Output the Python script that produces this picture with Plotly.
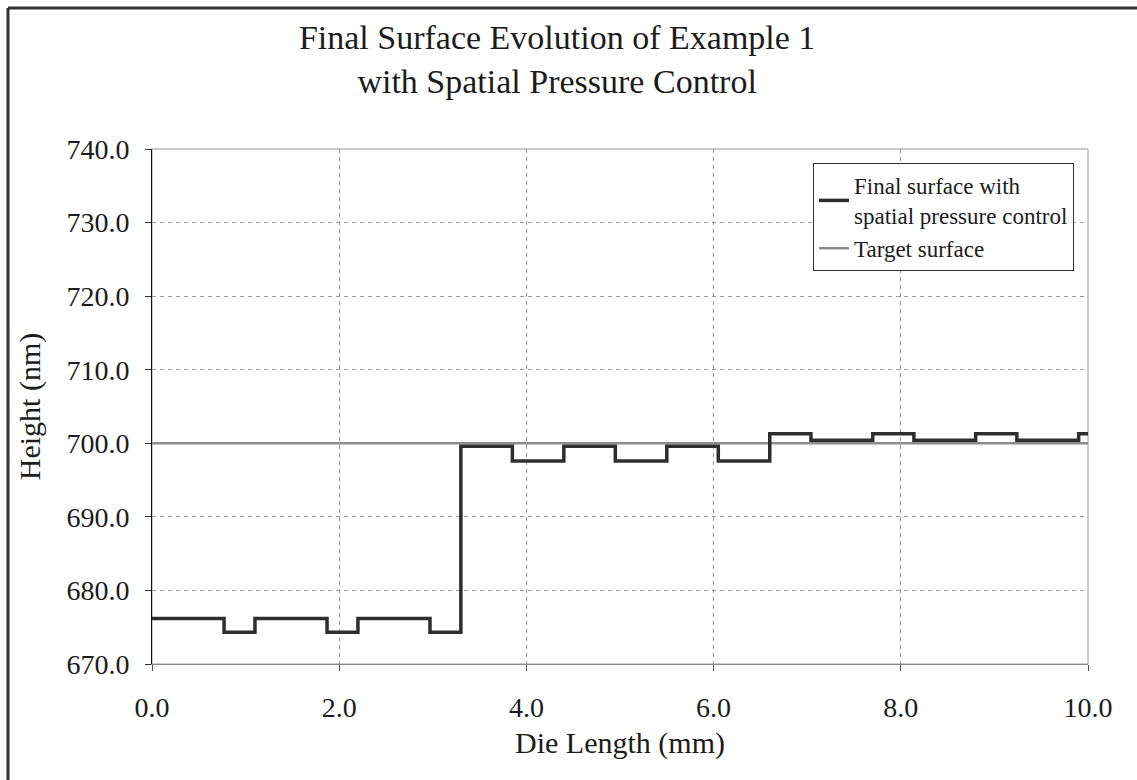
import plotly.graph_objects as go

# Die position breakpoints (mm) and surface heights (nm) of the final profile
die_length_mm = [0.0, 0.77, 1.1, 1.87, 2.2, 2.97, 3.3, 3.85, 4.4, 4.95, 5.5, 6.05,
                 6.6, 7.04, 7.7, 8.14, 8.8, 9.24, 9.9, 10.0]
final_height_nm = [676.2, 674.3, 676.2, 674.3, 676.2, 674.3, 699.6, 697.6, 699.6, 697.6,
                   699.6, 697.6, 701.3, 700.4, 701.3, 700.4, 701.3, 700.4, 701.3, 701.3]

# Flat target surface
target_x = [0.0, 10.0]
target_height_nm = [700.0, 700.0]

x_ticks = [0, 2, 4, 6, 8, 10]
y_ticks = [670, 680, 690, 700, 710, 720, 730, 740]

FONT = "Liberation Serif, Times New Roman, serif"
INK = "#1c1c1c"

fig = go.Figure()
fig.add_trace(go.Scatter(
    x=target_x, y=target_height_nm, mode="lines",
    name="Target surface",
    line=dict(color="#8c8c8c", width=2.5),
))
fig.add_trace(go.Scatter(
    x=die_length_mm, y=final_height_nm, mode="lines", line_shape="hv",
    name="Final surface with<br>spatial pressure control",
    line=dict(color="#2e2e2e", width=3.5),
))

W, H = 1137, 780
L, R, T, B = 152, 49, 149, 116
pw, ph = W - L - R, H - T - B


def px_to_paper(px, py):
    return (px - L) / pw, (H - B - py) / ph


fx, fy = px_to_paper(8, 8)

fig.update_layout(
    width=W, height=H,
    margin=dict(l=L, r=R, t=T, b=B),
    paper_bgcolor="white", plot_bgcolor="white",
    font=dict(family=FONT, color=INK, size=28),
    title=dict(
        text="Final Surface Evolution of Example 1<br>with Spatial Pressure Control",
        x=0.49, xref="container", xanchor="center",
        y=0.937, yref="container", yanchor="top",
        font=dict(size=34, family=FONT, color=INK),
    ),
    showlegend=True,
    legend=dict(
        x=(813 - L) / pw, y=(H - B - 163) / ph, xanchor="left", yanchor="top",
        traceorder="reversed",
        bgcolor="white", bordercolor="#333333", borderwidth=1,
        font=dict(size=23, family=FONT, color=INK),
        itemwidth=30, tracegroupgap=0,
    ),
    xaxis=dict(
        range=[0, 10], tickvals=x_ticks,
        ticktext=[f"{v:.1f}" for v in x_ticks],
        showgrid=True, gridcolor="#9a9a9a", griddash="4px,4px", gridwidth=1,
        showline=True, linecolor="#8a8a8a", linewidth=1,
        ticks="outside", ticklen=6, tickcolor="#555555",
        ticklabelstandoff=12,
        zeroline=False,
        title=dict(text="Die Length (mm)", font=dict(size=30, family=FONT, color=INK), standoff=10),
    ),
    yaxis=dict(
        range=[670, 740], tickvals=y_ticks,
        ticktext=[f"{v:.1f}" for v in y_ticks],
        showgrid=True, gridcolor="#9a9a9a", griddash="4px,4px", gridwidth=1,
        showline=True, linecolor="#111111", linewidth=1,
        ticks="outside", ticklen=6, tickcolor="#333333",
        ticklabelstandoff=10,
        zeroline=False,
        title=dict(text="Height (nm)", font=dict(size=30, family=FONT, color=INK), standoff=16),
    ),
    shapes=[
        # plot area border
        dict(type="rect", xref="paper", yref="paper", x0=0, x1=1, y0=0, y1=1,
             line=dict(color="#9a9a9a", width=1), layer="below"),
        # outer chart frame (left and top edges)
        dict(type="line", xref="paper", yref="paper", x0=fx, x1=fx, y0=-1, y1=fy,
             line=dict(color="#333333", width=3)),
        dict(type="line", xref="paper", yref="paper", x0=fx, x1=2, y0=fy, y1=fy,
             line=dict(color="#333333", width=3)),
    ],
)

fig.write_html("out.html")
